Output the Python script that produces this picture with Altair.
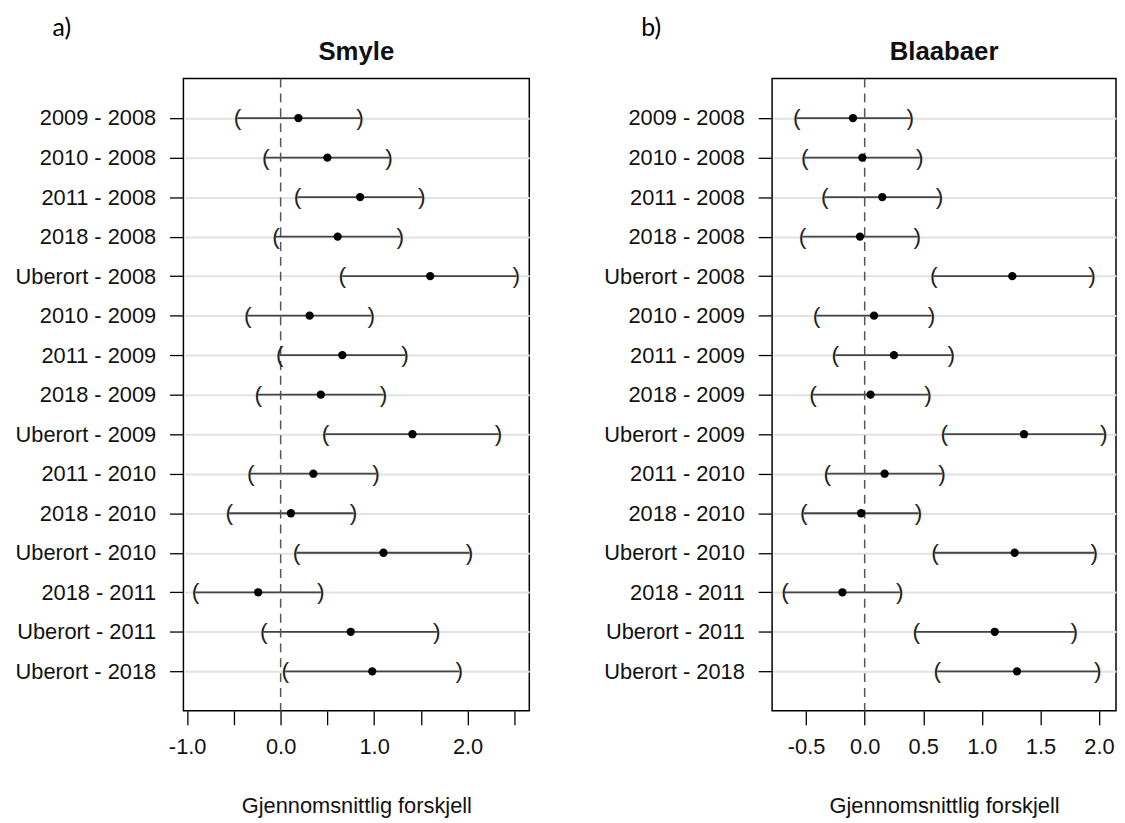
import altair as alt
import pandas as pd

comparisons = ["2009 - 2008", "2010 - 2008", "2011 - 2008", "2018 - 2008", "Uberort - 2008",
               "2010 - 2009", "2011 - 2009", "2018 - 2009", "Uberort - 2009",
               "2011 - 2010", "2018 - 2010", "Uberort - 2010",
               "2018 - 2011", "Uberort - 2011", "Uberort - 2018"]

smyle_mean = [0.19, 0.50, 0.85, 0.61, 1.60, 0.31, 0.66, 0.43, 1.41, 0.35, 0.11, 1.10, -0.24, 0.75, 0.98]
smyle_lo = [-0.46, -0.16, 0.18, -0.05, 0.66, -0.35, -0.01, -0.24, 0.48, -0.32, -0.55, 0.17, -0.91, -0.18, 0.05]
smyle_hi = [0.85, 1.16, 1.51, 1.28, 2.52, 0.97, 1.33, 1.10, 2.33, 1.02, 0.78, 2.02, 0.43, 1.67, 1.91]

blaabaer_mean = [-0.10, -0.02, 0.15, -0.04, 1.26, 0.08, 0.25, 0.05, 1.36, 0.17, -0.03, 1.28, -0.19, 1.11, 1.30]
blaabaer_lo = [-0.58, -0.51, -0.34, -0.53, 0.59, -0.41, -0.25, -0.44, 0.68, -0.32, -0.52, 0.60, -0.68, 0.44, 0.62]
blaabaer_hi = [0.39, 0.47, 0.64, 0.45, 1.94, 0.57, 0.74, 0.54, 2.04, 0.66, 0.46, 1.96, 0.30, 1.79, 1.99]

smyle_ticks = [-1.0, -0.5, 0.0, 0.5, 1.0, 1.5, 2.0, 2.5]
blaabaer_ticks = [-0.5, 0.0, 0.5, 1.0, 1.5, 2.0]

FONT = "Liberation Sans"
X_TITLE = "Gjennomsnittlig forskjell"
PLOT_H = 638


def panel(title, letter, mean, lo, hi, domain, ticks, label_expr, width):
    df = pd.DataFrame({"cmp": comparisons, "mean": mean, "lo": lo, "hi": hi})
    yscale = alt.Scale(type="point", padding=1.07)
    y_enc = alt.Y("cmp:N", sort=comparisons, scale=yscale,
                  axis=alt.Axis(title=None, grid=True, gridColor="#e2e2e2", gridWidth=2,
                                domain=False, ticks=True, tickSize=14, tickColor="#000",
                                tickWidth=1.3, labelFont=FONT, labelFontSize=22,
                                labelColor="#111", labelPadding=14))
    xscale = alt.Scale(domain=domain, nice=False, zero=False)
    x_axis = alt.Axis(title=X_TITLE, values=ticks, labelExpr=label_expr, grid=False,
                      domain=False, tickSize=14, tickColor="#000", tickWidth=1.3,
                      labelFont=FONT, labelFontSize=22, labelColor="#111", labelPadding=12,
                      labelFlush=False, labelOverlap=False,
                      titleFont=FONT, titleFontSize=22, titleFontWeight="normal",
                      titleColor="#111", titlePadding=39)
    base = alt.Chart(df)
    bars = base.mark_rule(color="#444", strokeWidth=1.8).encode(
        x=alt.X("lo:Q", scale=xscale, axis=x_axis), x2="hi:Q", y=y_enc)
    zero = alt.Chart(pd.DataFrame({"v": [0.0]})).mark_rule(
        color="#555", strokeDash=[9, 6], strokeWidth=1.5).encode(x="v:Q")
    left_b = base.mark_text(text="(", font=FONT, fontSize=23, color="#222",
                            baseline="middle", align="center").encode(x="lo:Q", y=alt.Y("cmp:N", sort=comparisons))
    right_b = base.mark_text(text=")", font=FONT, fontSize=23, color="#222",
                             baseline="middle", align="center").encode(x="hi:Q", y=alt.Y("cmp:N", sort=comparisons))
    pts = base.mark_point(filled=True, color="black", opacity=1, size=70).encode(
        x="mean:Q", y=alt.Y("cmp:N", sort=comparisons))
    ttl = alt.Chart(pd.DataFrame({"t": [title]})).mark_text(
        font=FONT, fontSize=26, fontWeight="bold", color="#111", align="center",
        baseline="alphabetic").encode(text="t:N", x=alt.value(width / 2), y=alt.value(-19))
    lab = alt.Chart(pd.DataFrame({"t": [letter]})).mark_text(
        font="Lato", fontSize=25, color="#000", align="left",
        baseline="middle").encode(text="t:N", x=alt.value(-132), y=alt.value(-51))
    return alt.layer(bars, zero, left_b, right_b, pts, ttl, lab).properties(
        width=width, height=PLOT_H)


lab_a = "datum.value % 1 == 0 ? (datum.value < 0 ? '-' : '') + format(abs(datum.value), '.1f') : ''"
lab_b = "(datum.value < 0 ? '-' : '') + format(abs(datum.value), '.1f')"

p1 = panel("Smyle", "a)", smyle_mean, smyle_lo, smyle_hi, [-1.04, 2.66], smyle_ticks, lab_a, 349)
p2 = panel("Blaabaer", "b)", blaabaer_mean, blaabaer_lo, blaabaer_hi, [-0.79, 2.145], blaabaer_ticks, lab_b, 347)

chart = alt.hconcat(p1, p2, spacing=73).configure_view(
    stroke="black", strokeWidth=1.5).properties(
    padding={"left": 6, "top": 3.5, "right": 0, "bottom": 0}, background="white")

chart.save("out.html", embed_options={"renderer": "svg", "actions": False})
